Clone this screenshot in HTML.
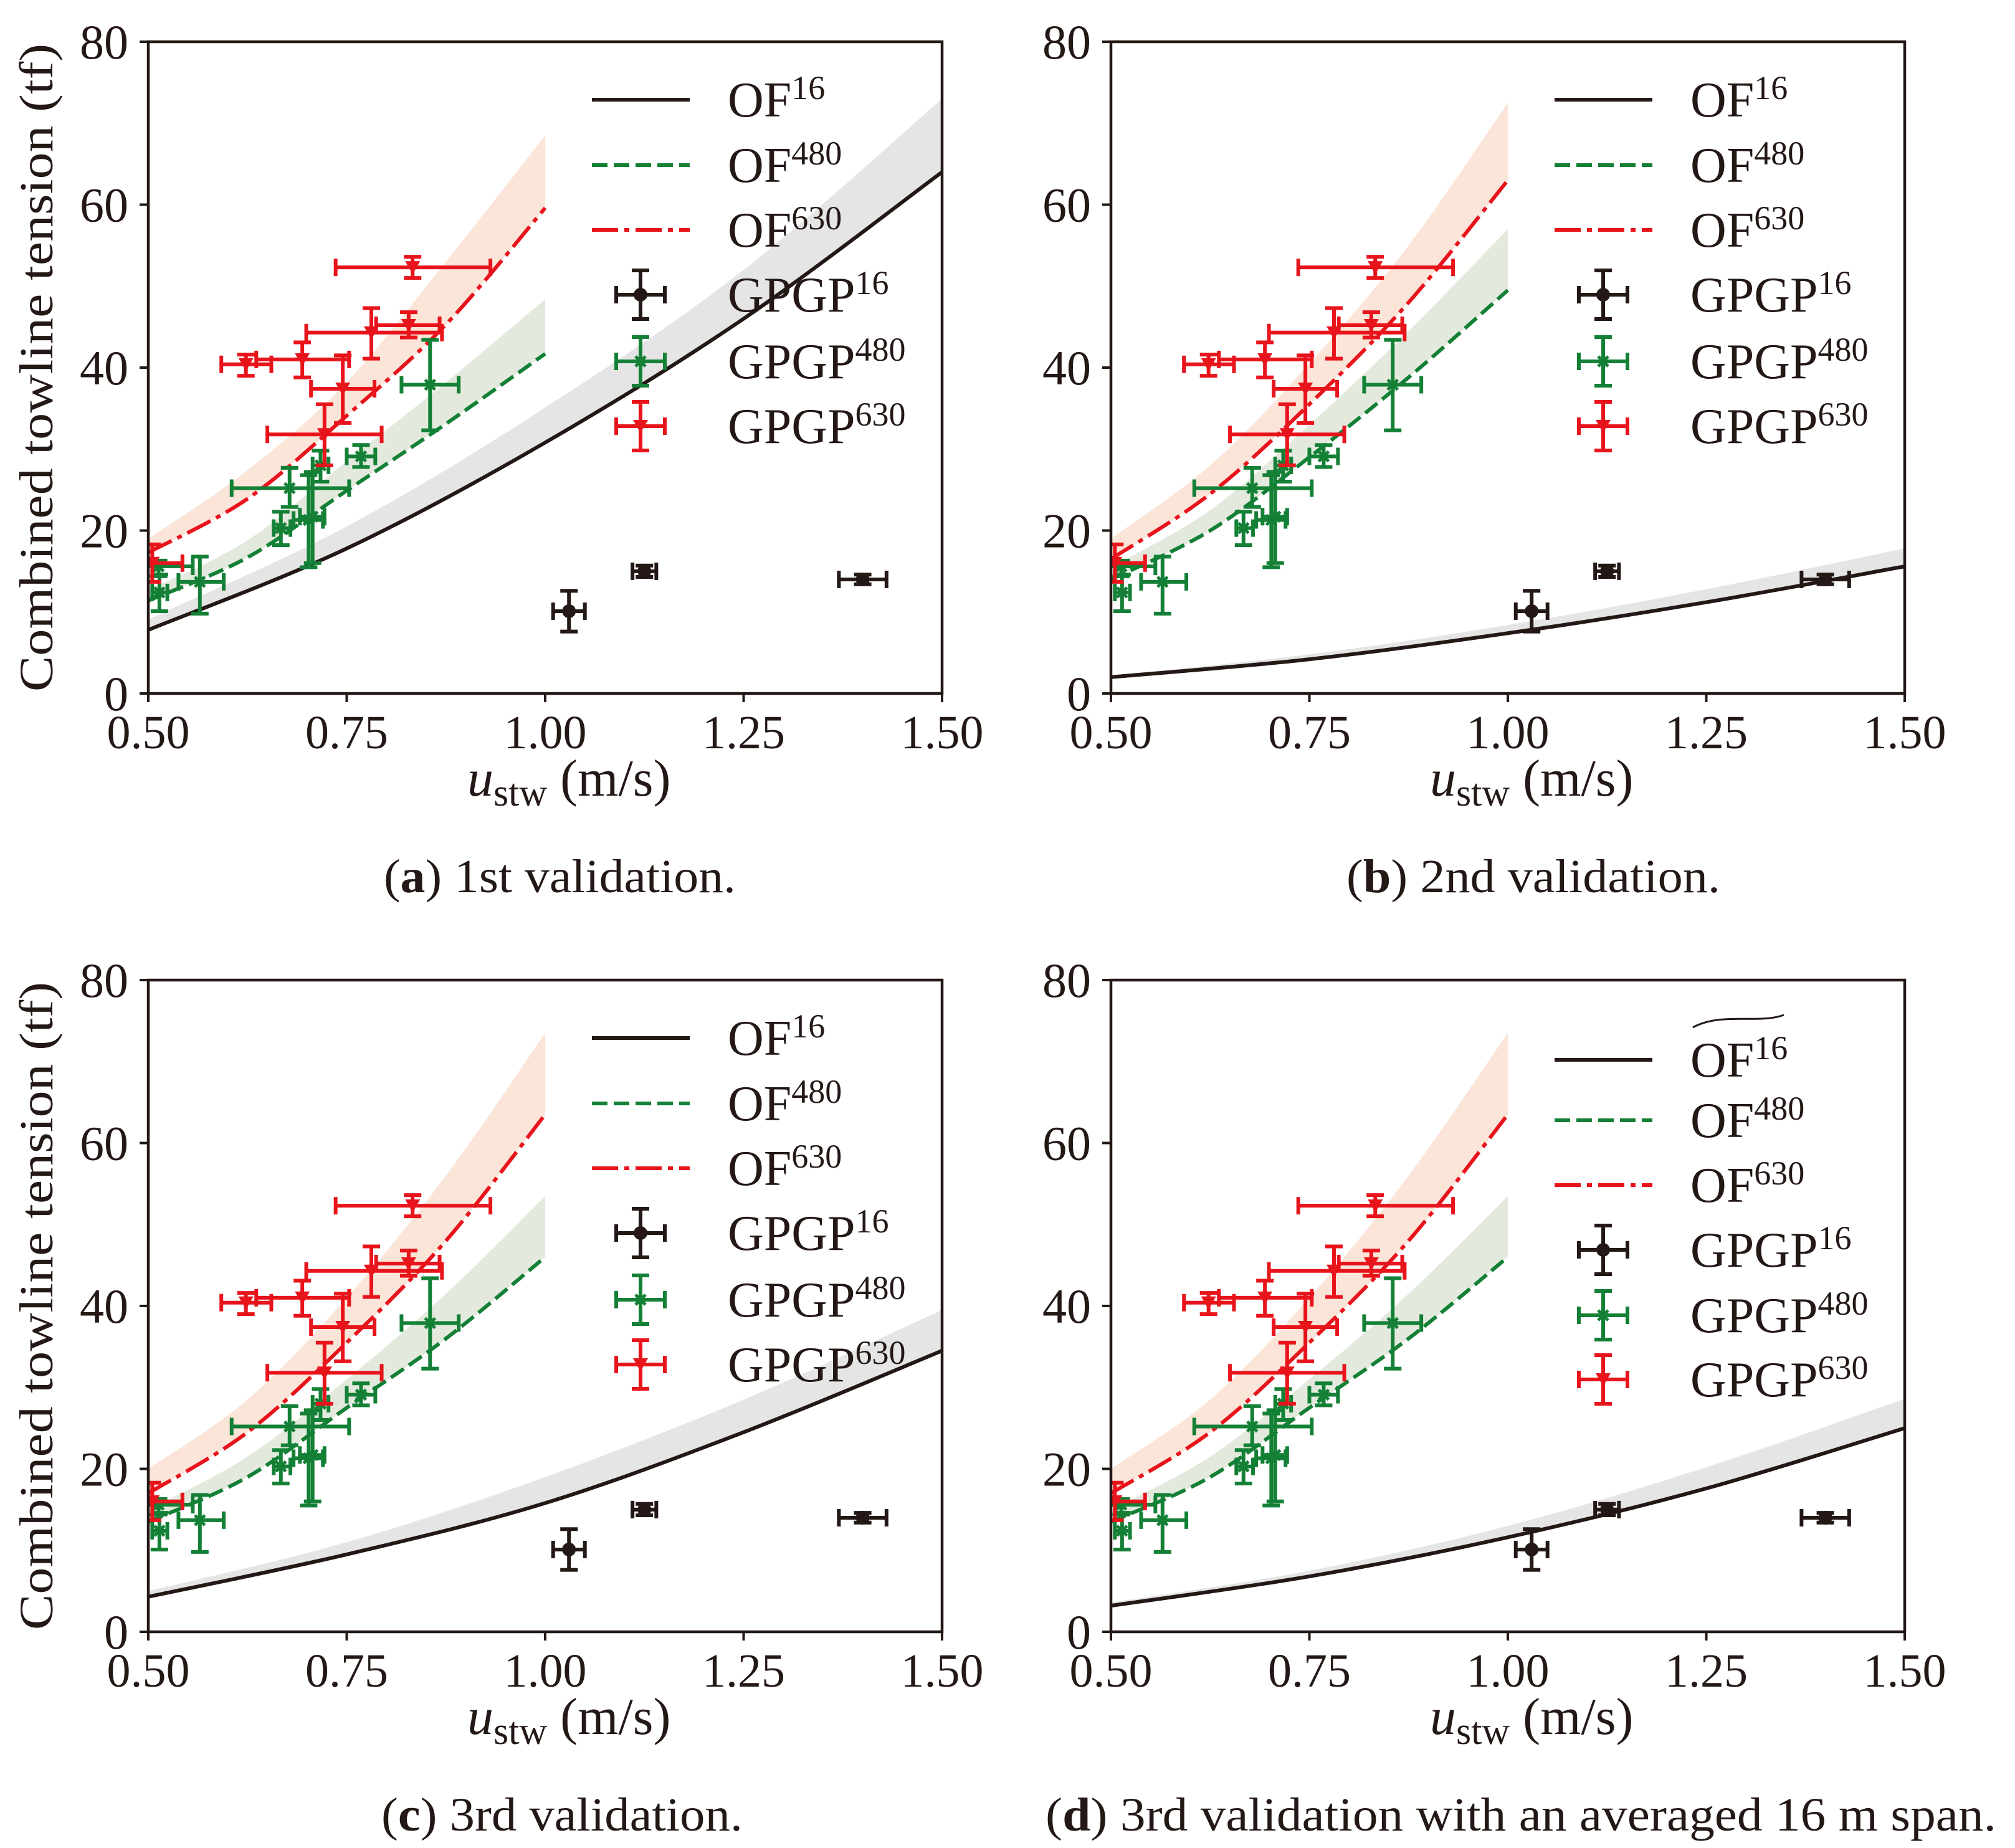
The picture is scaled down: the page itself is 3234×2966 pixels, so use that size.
<!DOCTYPE html>
<html><head><meta charset="utf-8"><style>
html,body{margin:0;padding:0;background:#fff;}
svg{display:block;font-family:"Liberation Serif",serif;}
</style></head><body>
<svg id="fig" xmlns="http://www.w3.org/2000/svg" width="3234" height="2966" viewBox="0 0 3234 2966"></svg>
<script>
// ---------- data ----------
const xTicks = [0.5, 0.75, 1.0, 1.25, 1.5];
const xTickLabels = ["0.50", "0.75", "1.00", "1.25", "1.50"];
const yTicks = [0, 20, 40, 60, 80];
const yTickLabels = ["0", "20", "40", "60", "80"];
// OF^16 curves sampled at xFull
const xFull = [0.5, 0.75, 1.0, 1.25, 1.5];
const of16_a = [7.8, 17.8, 30.8, 46.0, 64.0];
const of16Band_a = [9.1, 20.5, 35.1, 52.0, 73.0];
const of16_b = [2.0, 4.2, 7.4, 11.2, 15.6];
const of16Band_b = [2.2, 4.8, 8.4, 12.8, 17.8];
const of16_c = [4.3, 9.5, 15.8, 24.5, 34.5];
const of16Band_c = [5.0, 11.0, 19.0, 28.5, 39.5];
const of16_d = [3.2, 6.8, 11.6, 17.6, 25.0];
const of16Band_d = [3.6, 7.5, 13.0, 20.2, 28.6];
// OF^480 / OF^630 sampled at xHalf
const xHalf = [0.5, 0.625, 0.75, 0.875, 1.0];
const of480_a = [11.4, 16.7, 24.9, 33.1, 41.7];
const of480Band_a = [12.7, 18.8, 28.5, 38.2, 48.4];
const of630_a = [17.3, 23.9, 34.1, 45.3, 59.6];
const of630Band_a = [19.0, 27.4, 38.2, 53.0, 68.5];
const of480_b = [14.0, 20.0, 29.0, 38.8, 49.5];
const of480Band_b = [15.5, 22.5, 33.0, 44.5, 57.0];
const of630_b = [16.5, 24.5, 35.5, 48.0, 63.0];
const of630Band_b = [19.0, 28.0, 40.5, 55.0, 72.5];
const of480_c = [13.5, 19.0, 27.5, 36.0, 46.0];
const of480Band_c = [15.0, 21.5, 31.0, 41.5, 53.5];
const of630_c = [17.0, 24.5, 35.5, 48.0, 63.5];
const of630Band_c = [20.0, 28.5, 41.0, 56.0, 73.5];
// GPGP measurements
const gp16X = [1.03, 1.125, 1.40];
const gp16Y = [10.1, 15.0, 14.0];
const gp16XLo = [1.01, 1.11, 1.37];
const gp16XHi = [1.05, 1.14, 1.43];
const gp16YLo = [7.6, 14.3, 13.4];
const gp16YHi = [12.6, 15.7, 14.6];
const gp480X = [0.855, 0.768, 0.717, 0.678, 0.702, 0.707, 0.667, 0.565, 0.513, 0.514];
const gp480Y = [37.9, 29.1, 28.0, 25.2, 21.3, 21.7, 20.3, 13.7, 15.6, 12.4];
const gp480XLo = [0.819, 0.750, 0.707, 0.605, 0.683, 0.691, 0.658, 0.538, 0.47, 0.505];
const gp480XHi = [0.891, 0.786, 0.727, 0.753, 0.720, 0.722, 0.679, 0.595, 0.556, 0.524];
const gp480YLo = [32.3, 27.8, 26.0, 22.9, 15.5, 16.0, 18.2, 9.8, 14.4, 10.1];
const gp480YHi = [43.4, 30.5, 29.8, 27.7, 26.8, 27.2, 22.3, 16.8, 16.3, 14.6];
const gp630X = [0.833, 0.828, 0.781, 0.694, 0.623, 0.745, 0.722, 0.505];
const gp630Y = [52.3, 45.2, 44.3, 41.0, 40.4, 37.4, 31.8, 16.0];
const gp630XLo = [0.736, 0.787, 0.699, 0.636, 0.592, 0.705, 0.650, 0.47];
const gp630XHi = [0.931, 0.867, 0.870, 0.753, 0.655, 0.785, 0.794, 0.543];
const gp630YLo = [51.0, 43.7, 41.1, 38.8, 39.0, 33.2, 28.0, 13.7];
const gp630YHi = [53.6, 46.8, 47.3, 43.1, 41.6, 41.5, 35.5, 18.3];

// ---------- drawing ----------
const NS = "http://www.w3.org/2000/svg";
const svg = document.getElementById("fig");
const BLACK = "#231815", GREEN = "#138036", RED = "#e8141c";
function mk(tag, attrs, parent) {
  const e = document.createElementNS(NS, tag);
  for (const k in attrs) e.setAttribute(k, attrs[k]);
  (parent || svg).appendChild(e);
  return e;
}
function smoothPath(pts) {
  let d = "M" + pts[0][0] + "," + pts[0][1];
  for (let i = 0; i < pts.length - 1; i++) {
    const p0 = pts[i - 1] || pts[i], p1 = pts[i], p2 = pts[i + 1], p3 = pts[i + 2] || pts[i + 1];
    const c1x = p1[0] + (p2[0] - p0[0]) / 6, c1y = p1[1] + (p2[1] - p0[1]) / 6;
    const c2x = p2[0] - (p3[0] - p1[0]) / 6, c2y = p2[1] - (p3[1] - p1[1]) / 6;
    d += " C" + c1x + "," + c1y + " " + c2x + "," + c2y + " " + p2[0] + "," + p2[1];
  }
  return d;
}
function smoothRev(pts) {
  const r = pts.slice().reverse();
  return smoothPath(r).replace(/^M/, "L");
}

const panels = [
  {id: "a", ox: 0, oy: 0, of16: of16_a, of16B: of16Band_a, of480: of480_a, of480B: of480Band_a, of630: of630_a, of630B: of630Band_a, ylabel: true, cap: ["a", " 1st validation."], capX: 616, capW: 565, tilde: false},
  {id: "b", ox: 1545, oy: 0, of16: of16_b, of16B: of16Band_b, of480: of480_b, of480B: of480Band_b, of630: of630_b, of630B: of630Band_b, ylabel: false, cap: ["b", " 2nd validation."], capX: 2161, capW: 600, tilde: false},
  {id: "c", ox: 0, oy: 1506, of16: of16_c, of16B: of16Band_c, of480: of480_c, of480B: of480Band_c, of630: of630_c, of630B: of630Band_c, ylabel: true, cap: ["c", " 3rd validation."], capX: 612, capW: 580, tilde: false},
  {id: "d", ox: 1545, oy: 1506, of16: of16_d, of16B: of16Band_d, of480: of480_c, of480B: of480Band_c, of630: of630_c, of630B: of630Band_c, ylabel: false, cap: ["d", " 3rd validation with an averaged 16 m span."], capX: 1678, capW: 1526, tilde: true}
];

const defs = mk("defs", {});
panels.forEach(P => {
  const L = 238 + P.ox, R = 1512 + P.ox, T = 67 + P.oy, B = 1113 + P.oy;
  const sx = v => L + (v - 0.5) / 1.0 * (R - L);
  const sy = v => B - v / 80 * (B - T);
  const g = mk("g", {});
  
  
  const cp = mk("clipPath", {id: "clip" + P.id}, defs);
  mk("rect", {x: L, y: T, width: R - L, height: B - T}, cp);
  const plot = mk("g", {"clip-path": "url(#clip" + P.id + ")"}, g);
  
  

  function band(xs, lo, hi, fill, name) {
    const lp = xs.map((x, i) => [sx(x), sy(lo[i])]);
    const hp = xs.map((x, i) => [sx(x), sy(hi[i])]);
    const e = mk("path", {d: smoothPath(lp) + " " + smoothRev(hp) + " Z", fill: fill, stroke: "none"}, plot);
    
    
  }
  function line(xs, ys, color, dash, name) {
    const pts = xs.map((x, i) => [sx(x), sy(ys[i])]);
    const e = mk("path", {d: smoothPath(pts), fill: "none", stroke: color, "stroke-width": 6, "stroke-dasharray": dash}, plot);
    
    
  }
  band(xFull, P.of16, P.of16B, "#e5e5e5", "of16-band");
  band(xHalf, P.of480, P.of480B, "#e3eadd", "of480-band");
  band(xHalf, P.of630, P.of630B, "#fbe4d8", "of630-band");
  line(xFull, P.of16, BLACK, "none", "of16-line");
  line(xHalf, P.of480, GREEN, "25 10", "of480-line");
  line(xHalf, P.of630, RED, "42 10 8 10", "of630-line");

  function errbar(parent, cx, cy, x0, x1, y0, y1, color, marker) {
    const eg = mk("g", {stroke: color, "stroke-width": 6, fill: color}, parent);
    
    
    mk("line", {x1: x0, y1: cy, x2: x1, y2: cy}, eg);
    mk("line", {x1: cx, y1: y0, x2: cx, y2: y1}, eg);
    mk("line", {x1: x0, y1: cy - 14, x2: x0, y2: cy + 14}, eg);
    mk("line", {x1: x1, y1: cy - 14, x2: x1, y2: cy + 14}, eg);
    mk("line", {x1: cx - 14, y1: y0, x2: cx + 14, y2: y0}, eg);
    mk("line", {x1: cx - 14, y1: y1, x2: cx + 14, y2: y1}, eg);
    if (marker === "o") mk("circle", {cx: cx, cy: cy, r: 11, stroke: "none"}, eg);
    if (marker === "x") {
      mk("line", {x1: cx - 8, y1: cy - 8, x2: cx + 8, y2: cy + 8, "stroke-width": 5}, eg);
      mk("line", {x1: cx - 8, y1: cy + 8, x2: cx + 8, y2: cy - 8, "stroke-width": 5}, eg);
    }
    if (marker === "v") mk("path", {d: `M${cx - 12},${cy - 10} L${cx + 12},${cy - 10} L${cx},${cy + 11} Z`, stroke: "none"}, eg);
  }
  function series(X, Y, XL, XH, YL, YH, color, marker) {
    for (let i = 0; i < X.length; i++)
      errbar(plot, sx(X[i]), sy(Y[i]), sx(XL[i]), sx(XH[i]), sy(YL[i]), sy(YH[i]), color, marker);
  }
  series(gp16X, gp16Y, gp16XLo, gp16XHi, gp16YLo, gp16YHi, BLACK, "o");
  series(gp480X, gp480Y, gp480XLo, gp480XHi, gp480YLo, gp480YHi, GREEN, "x");
  series(gp630X, gp630Y, gp630XLo, gp630XHi, gp630YLo, gp630YHi, RED, "v");

  const fr = mk("rect", {x: L, y: T, width: R - L, height: B - T, fill: "none", stroke: BLACK, "stroke-width": 4.5}, g);
  
  
  xTicks.forEach((v, i) => {
    mk("line", {x1: sx(v), y1: B, x2: sx(v), y2: B + 14, stroke: BLACK, "stroke-width": 4}, g);
    const t = mk("text", {x: sx(v), y: B + 88, "font-size": 76, "text-anchor": "middle", fill: BLACK}, g);
    t.textContent = xTickLabels[i];
    
    
  });
  yTicks.forEach((v, i) => {
    mk("line", {x1: L - 14, y1: sy(v), x2: L, y2: sy(v), stroke: BLACK, "stroke-width": 4}, g);
    const t = mk("text", {x: L - 32, y: sy(v) + 27, "font-size": 78, "text-anchor": "end", fill: BLACK}, g);
    t.textContent = yTickLabels[i];
    
    
  });
  const xl = mk("text", {x: 750 + P.ox, y: 1277 + P.oy, "font-size": 84, fill: BLACK}, g);
  
  
  xl.innerHTML = '<tspan font-style="italic">u</tspan><tspan font-size="62" dy="16">stw</tspan><tspan dy="-16"> (m/s)</tspan>';
  if (P.ylabel) {
    const yl = mk("text", {x: 0, y: 0, "font-size": 76, fill: BLACK, "text-anchor": "middle", transform: `translate(${84 + P.ox},${590 + P.oy}) rotate(-90)`, textLength: 1040, lengthAdjust: "spacingAndGlyphs"}, g);
    yl.textContent = "Combined towline tension (tf)";
    
    
  }
  const lg = mk("g", {}, g);
  
  
  const rows = P.tilde ? [195, 292, 396, 500, 605, 708] : [160, 265, 369, 473, 580, 684];
  const labels = [["OF", "16"], ["OF", "480"], ["OF", "630"], ["GPGP", "16"], ["GPGP", "480"], ["GPGP", "630"]];
  const lx0 = 950 + P.ox, lx1 = 1107 + P.ox, tx = 1168 + P.ox;
  rows.forEach((ry, i) => {
    const y = ry + P.oy;
    const eg = mk("g", {}, lg);
    
    
    if (i === 0) mk("line", {x1: lx0, y1: y, x2: lx1, y2: y, stroke: BLACK, "stroke-width": 6}, eg);
    if (i === 1) mk("line", {x1: lx0, y1: y, x2: lx1, y2: y, stroke: GREEN, "stroke-width": 6, "stroke-dasharray": "25 10"}, eg);
    if (i === 2) mk("line", {x1: lx0, y1: y, x2: lx1, y2: y, stroke: RED, "stroke-width": 6, "stroke-dasharray": "42 10 8 10"}, eg);
    const cx = 1028 + P.ox;
    if (i === 3) errbar(eg, cx, y, cx - 39, cx + 39, y + 39, y - 39, BLACK, "o");
    if (i === 4) errbar(eg, cx, y, cx - 39, cx + 39, y + 39, y - 39, GREEN, "x");
    if (i === 5) errbar(eg, cx, y, cx - 39, cx + 39, y + 39, y - 39, RED, "v");
    const t = mk("text", {x: tx, y: y + 27, "font-size": 80, fill: BLACK}, eg);
    t.innerHTML = labels[i][0] + '<tspan font-size="54" dy="-28">' + labels[i][1] + '</tspan>';
    if (P.tilde && i === 0) mk("path", {d: `M${tx + 4},${y - 52} C${tx + 50},${y - 77} ${tx + 110},${y - 57} ${tx + 150},${y - 72}`, fill: "none", stroke: BLACK, "stroke-width": 3}, eg);
  });
  const cap = mk("text", {x: P.capX, y: 1432 + P.oy, "font-size": 76, fill: BLACK, textLength: P.capW, lengthAdjust: "spacingAndGlyphs"}, g);
  cap.innerHTML = '(<tspan font-weight="bold">' + P.cap[0] + '</tspan>)' + P.cap[1];
  
  
});
</script>
</body></html>
